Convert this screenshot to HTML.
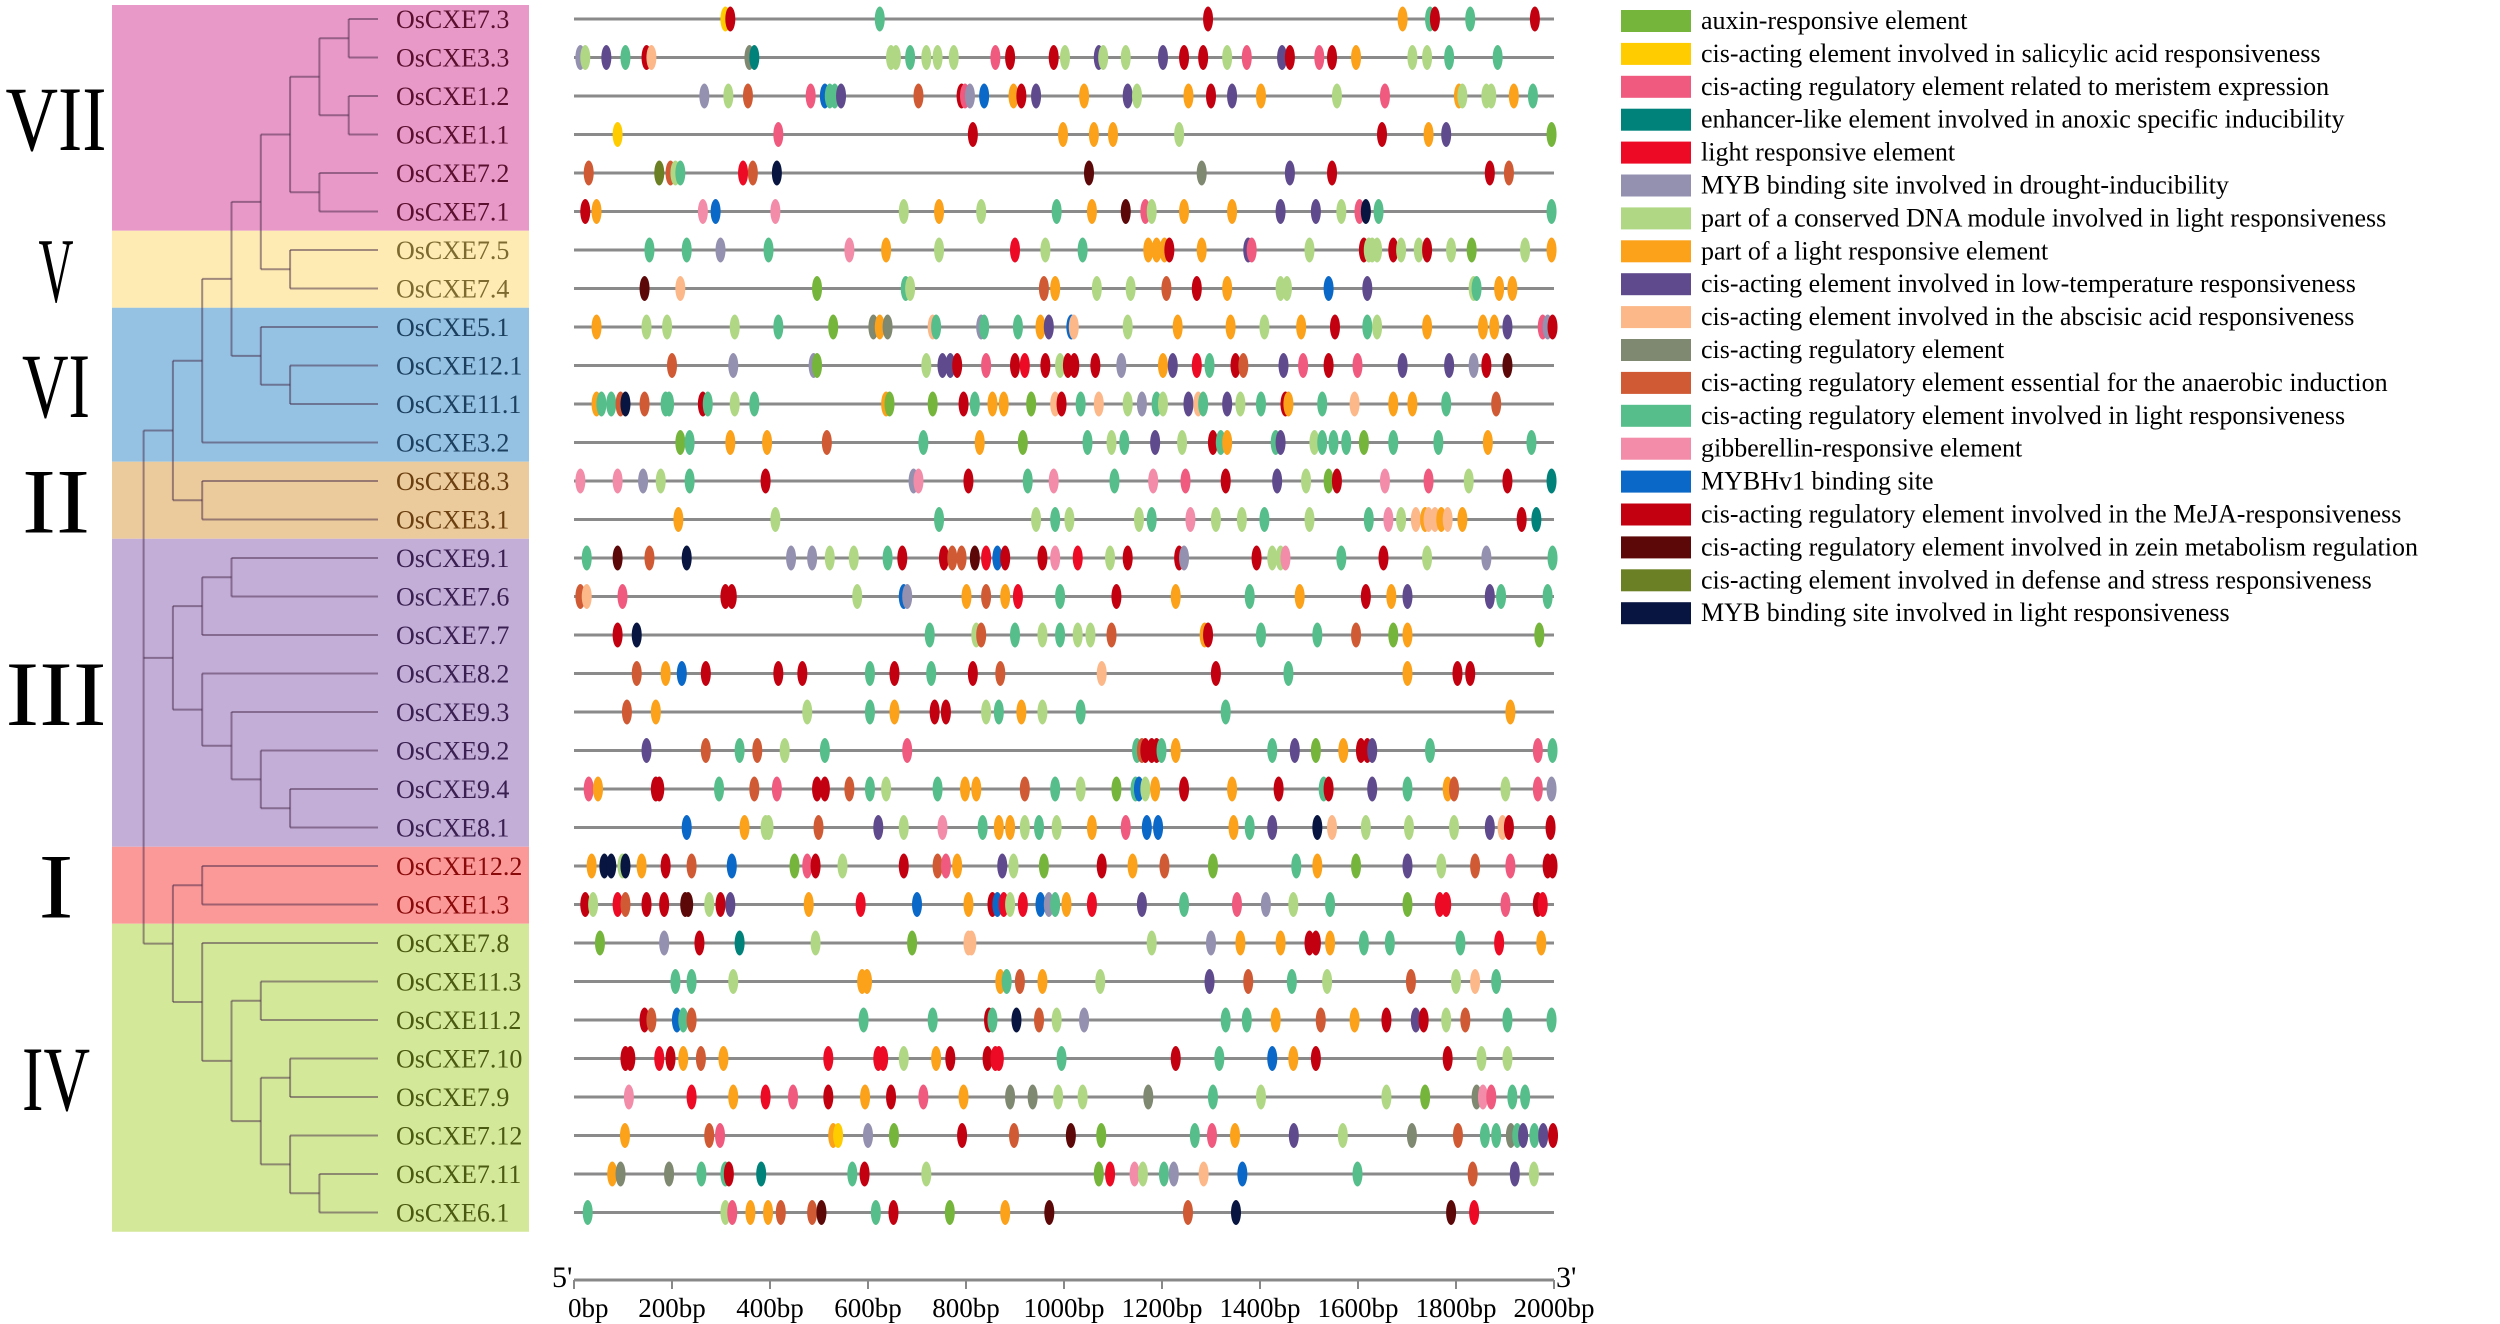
<!DOCTYPE html>
<html><head><meta charset="utf-8"><title>OsCXE promoter cis-elements</title>
<style>
html,body{margin:0;padding:0;background:#fff;}
svg{display:block;font-family:"Liberation Serif",serif;}
</style></head>
<body>
<svg id="chart" width="2500" height="1324" viewBox="0 0 2500 1324" xmlns="http://www.w3.org/2000/svg"></svg>
<script>
const genes = ["OsCXE7.3","OsCXE3.3","OsCXE1.2","OsCXE1.1","OsCXE7.2","OsCXE7.1","OsCXE7.5","OsCXE7.4","OsCXE5.1","OsCXE12.1","OsCXE11.1","OsCXE3.2","OsCXE8.3","OsCXE3.1","OsCXE9.1","OsCXE7.6","OsCXE7.7","OsCXE8.2","OsCXE9.3","OsCXE9.2","OsCXE9.4","OsCXE8.1","OsCXE12.2","OsCXE1.3","OsCXE7.8","OsCXE11.3","OsCXE11.2","OsCXE7.10","OsCXE7.9","OsCXE7.12","OsCXE7.11","OsCXE6.1"];
const elementCodes = ["a","s","m","e","l","d","c","p","t","b","r","n","g","G","h","j","z","f","k"];
const elementNames = ["auxin-responsive element","cis-acting element involved in salicylic acid responsiveness","cis-acting regulatory element related to meristem expression","enhancer-like element involved in anoxic specific inducibility","light responsive element","MYB binding site involved in drought-inducibility","part of a conserved DNA module involved in light responsiveness","part of a light responsive element","cis-acting element involved in low-temperature responsiveness","cis-acting element involved in the abscisic acid responsiveness","cis-acting regulatory element","cis-acting regulatory element essential for the anaerobic induction","cis-acting regulatory element involved in light responsiveness","gibberellin-responsive element","MYBHv1 binding site","cis-acting regulatory element involved in the MeJA-responsiveness","cis-acting regulatory element involved in zein metabolism regulation","cis-acting element involved in defense and stress responsiveness","MYB binding site involved in light responsiveness"];
const elementColors = ["#76b53b","#ffcc00","#ef5a7e","#00827a","#ec0a24","#9390b0","#b0d884","#fba11a","#5e4a8c","#fcb889","#7f8870","#d05a34","#56be8a","#f28ca8","#0a68c8","#c30010","#5c0808","#6b7f24","#081540"];
const axisTicks = [0,200,400,600,800,1000,1200,1400,1600,1800,2000];
const tickLabels = ["0bp","200bp","400bp","600bp","800bp","1000bp","1200bp","1400bp","1600bp","1800bp","2000bp"];
const positions = [
[309,319,624,1294,1691,1747,1757,1829,1961],
[13,23,66,105,148,158,358,368,647,657,686,719,742,775,860,890,979,1002,1071,1080,1126,1202,1245,1284,1333,1373,1445,1461,1521,1547,1596,1711,1741,1786,1885],
[266,315,355,483,512,522,532,545,703,791,798,808,837,897,913,943,1041,1130,1149,1254,1300,1343,1402,1557,1655,1806,1813,1862,1872,1918,1957],
[89,417,814,998,1061,1100,1235,1649,1744,1780,1995],
[30,174,197,207,217,345,365,414,1051,1281,1461,1547,1869,1908],
[23,46,263,289,411,673,745,831,985,1057,1126,1166,1179,1245,1343,1442,1514,1566,1603,1616,1642,1995],
[154,230,299,397,562,637,745,900,962,1038,1172,1189,1205,1215,1281,1376,1383,1501,1612,1622,1629,1639,1672,1688,1724,1741,1790,1832,1941,1995],
[144,217,496,677,686,959,982,1067,1136,1209,1271,1333,1442,1455,1540,1619,1836,1842,1888,1915],
[46,148,190,328,417,529,611,624,640,732,739,831,837,906,952,969,1015,1020,1130,1232,1340,1409,1484,1553,1619,1639,1741,1855,1878,1905,1977,1987,1997],
[200,325,489,496,719,752,768,782,841,900,920,962,992,1008,1021,1064,1117,1202,1222,1271,1297,1350,1366,1448,1488,1540,1599,1691,1786,1836,1862,1905],
[46,56,76,95,105,144,187,194,263,273,328,368,637,644,732,795,818,854,877,933,982,995,1034,1071,1130,1159,1189,1202,1254,1274,1284,1333,1360,1402,1452,1458,1527,1593,1672,1711,1780,1882],
[217,236,319,394,516,713,828,916,1048,1097,1123,1186,1241,1304,1320,1333,1432,1442,1511,1527,1550,1576,1612,1672,1764,1865,1954],
[13,89,141,177,236,391,693,703,805,926,979,1103,1182,1248,1330,1435,1494,1540,1557,1655,1744,1826,1905,1995],
[213,411,745,943,982,1011,1153,1179,1258,1310,1363,1409,1501,1622,1662,1688,1718,1737,1744,1757,1770,1783,1813,1934,1964],
[26,89,154,230,443,486,522,571,640,670,755,772,791,818,841,864,880,956,982,1028,1094,1130,1235,1245,1393,1425,1442,1452,1566,1652,1741,1862,1997],
[13,26,99,309,322,578,673,680,801,841,880,906,992,1107,1228,1379,1481,1616,1668,1701,1869,1892,1987],
[89,128,726,821,831,900,956,992,1028,1054,1097,1287,1294,1402,1517,1596,1672,1701,1970],
[128,187,220,269,417,466,604,654,729,814,870,1077,1310,1458,1701,1803,1829],
[108,167,476,604,654,736,759,841,867,913,956,1034,1330,1911],
[148,269,338,374,430,512,680,1149,1159,1166,1179,1189,1199,1228,1425,1471,1514,1570,1606,1619,1629,1747,1967,1997],
[30,49,167,174,296,368,414,496,512,562,604,637,742,798,821,920,982,1034,1107,1146,1153,1166,1186,1245,1343,1438,1530,1540,1629,1701,1783,1796,1901,1967,1995],
[230,348,391,397,499,621,673,752,834,867,890,920,949,985,1057,1126,1169,1192,1346,1379,1425,1517,1547,1616,1704,1796,1869,1895,1908,1993],
[36,62,76,99,105,138,187,240,322,450,476,493,548,673,742,759,782,874,897,959,1077,1140,1205,1304,1474,1517,1596,1701,1770,1839,1911,1987,1997],
[23,39,89,105,148,184,227,233,276,299,319,479,585,700,805,854,864,877,890,916,952,969,982,1005,1057,1159,1245,1353,1412,1468,1543,1701,1767,1780,1901,1967,1977],
[53,184,256,338,493,690,805,811,1179,1300,1360,1442,1501,1514,1543,1612,1665,1809,1888,1974],
[207,240,325,588,598,870,883,910,956,1074,1297,1376,1465,1537,1708,1800,1839,1882],
[144,158,210,223,240,591,732,847,854,903,949,985,1041,1330,1373,1432,1524,1593,1658,1718,1734,1780,1819,1905,1995],
[105,115,174,197,223,259,305,519,621,631,673,739,768,844,860,867,995,1228,1317,1425,1468,1514,1783,1852,1905],
[112,240,325,391,447,519,594,647,713,795,890,936,988,1038,1172,1304,1402,1658,1737,1842,1855,1872,1915,1941],
[104,276,298,529,539,600,653,792,898,1014,1076,1267,1302,1349,1469,1569,1710,1804,1859,1882,1912,1925,1937,1960,1978,1998],
[78,95,194,260,309,316,382,568,593,719,1071,1094,1144,1161,1204,1224,1285,1364,1599,1834,1920,1959],
[28,309,323,360,396,422,486,505,616,652,767,880,970,1253,1351,1790,1837]
];
const types = [
"sjgjpgjgj",
"dctgjbreccgcccmjjctcctjjcmtjmjpccg",
"dcnmhggtnjmdhpjtptcpjtpcmpcccp",
"smjpppcjpta",
"nfncglnkzrtjjn",
"jpGhGcpcgpzmcppttcmkgg",
"ggdgGpclcgpppjptmcjcccjccjcacpb",
"zbagcnpccnjpcchtcgpp",
"pccciarprbgdggpthbcppcpjgcppptmdj",
"nddacttjmjljcjjjdptlgjntmjmttdjz",
"pggnknggjgcgpaajgppabjgbcdgctbgtcgjpgbppgnpg",
"agppngpagcgtcjgpgtcgggaggpgg",
"GGdcgjdGjgGgGmjtcajGmcje",
"pcgcgccgGccgcgGcbpbbpbpje",
"gznkddccgjjnnzlhjjGlcjjdjccGgjcd",
"nbmjjchdpnplgjpgpjpttgg",
"jkgcngcgccnpjggnapa",
"nphjjjgjgjnbjgpjj",
"npcgpjjcgpcggp",
"tngncgmgnjjjgpgtapjjtgmg",
"mpjjgnmjjngcgppngcaghcpjpjgjtgpncmd",
"hpccntcGgppcgcpmhhpgtkbccctbjjj",
"pkkckpjnhamjcjnmptcajpnagpatcnmjj",
"jclnjjzzcjtplhpjhlclhdgpltgmdcgallmjll",
"adjecabbcdppjjpggglp",
"ggcpppgnpctngcncb",
"jnhgnggjgkncdggpnpjtjcngg",
"jjljpnplllcpjjllgjghpjjcc",
"GlplmjpjmprrccrgccarGmg",
"pnmpsdajnzagmptcrnggrgtgtj",
"prrggjegjcalGcgdbhgntc",
"gcmppnnzgjapznkzl"
];

const NS="http://www.w3.org/2000/svg";
const svg=document.getElementById('chart');
function mk(tag,attrs,parent){const e=document.createElementNS(NS,tag);for(const k in attrs)e.setAttribute(k,attrs[k]);(parent||svg).appendChild(e);return e;}

const rowY=i=>19+38.5*i;
const xScale=bp=>574+bp*0.49;

const groups=[["VII",0,5,"#e899c8","#5a0f2e"],["V",6,7,"#fdebb3","#7d6a30"],["VI",8,11,"#95c2e3","#1c3f5e"],["II",12,13,"#ebcb9c","#6b3f10"],["III",14,21,"#c3aed8","#3a2050"],["I",22,23,"#fb9999","#8a0a0a"],["IV",24,31,"#d4e89a","#4a5a10"]];
const labelColor=[];
groups.forEach(g=>{
  const top=Math.max(5,rowY(g[1])-19.25), bot=rowY(g[2])+19.25;
  const r=mk('rect',{x:112,y:top,width:417,height:bot-top,fill:g[3]});
  
  
  const t=mk('text',{x:56,y:(top+bot)/2+32,'font-size':92,'text-anchor':'middle',fill:'#000',textLength:g[0].length*33+2,lengthAdjust:'spacingAndGlyphs'});
  t.textContent=g[0];
  
  
  for(let i=g[1];i<=g[2];i++)labelColor[i]=g[4];
});

const L=k=>378-29.3*k;
const A={k:1,c:[0,1]},B={k:1,c:[2,3]},AB={k:2,c:[A,B]},C={k:2,c:[4,5]},VIIc={k:3,c:[AB,C]},Vc={k:3,c:[6,7]},VV={k:4,c:[VIIc,Vc]},D={k:3,c:[9,10]},VIc={k:4,c:[8,D]},E={k:5,c:[VV,VIc]},F={k:6,c:[E,11]},IIc={k:6,c:[12,13]},G={k:7,c:[F,IIc]};
const H={k:5,c:[14,15]},H2={k:6,c:[H,16]},p1={k:3,c:[20,21]},p2={k:4,c:[19,p1]},p3={k:5,c:[18,p2]},p4={k:6,c:[17,p3]},IIIc={k:7,c:[H2,p4]};
const Ic={k:6,c:[22,23]};
const q1={k:4,c:[25,26]},q2={k:3,c:[27,28]},q3={k:2,c:[30,31]},q4={k:3,c:[29,q3]},q5={k:4,c:[q2,q4]},q6={k:5,c:[q1,q5]},q7={k:6,c:[24,q6]},IIV={k:7,c:[Ic,q7]};
const root={k:8,c:[G,IIIc,IIV]};
const treeG=mk('g',{stroke:'rgba(70,40,70,0.5)','stroke-width':2,fill:'none'});


function draw(n){
  if(typeof n==='number')return {x:378,y:rowY(n)};
  const x=L(n.k);const ch=n.c.map(draw);
  ch.forEach(c=>mk('line',{x1:x,y1:c.y,x2:c.x,y2:c.y},treeG));
  const y0=ch[0].y,y1=ch[ch.length-1].y;
  mk('line',{x1:x,y1:y0,x2:x,y2:y1},treeG);
  return {x:x,y:(y0+y1)/2};
}
draw(root);

genes.forEach((name,i)=>{
  const y=rowY(i);
  const lab=mk('text',{x:396,y:y+9,'font-size':26,fill:labelColor[i]});
  lab.textContent=name;
  
  
  const ln=mk('line',{x1:xScale(0),y1:y,x2:xScale(2000),y2:y,stroke:'#8a8a8a','stroke-width':3});
  
  
  const pos=positions[i],ty=types[i];
  pos.forEach((bp,j)=>{
    const ci=elementCodes.indexOf(ty[j]);
    const el=mk('ellipse',{cx:xScale(bp),cy:y,rx:5,ry:12.5,fill:elementColors[ci<0?12:ci]});
    
    
  });
});

const ax=mk('g',{});


mk('line',{x1:xScale(0),y1:1280,x2:xScale(2000),y2:1280,stroke:'#888','stroke-width':3},ax);
axisTicks.forEach((v,i)=>{
  mk('line',{x1:xScale(v),y1:1280,x2:xScale(v),y2:1289,stroke:'#888','stroke-width':2},ax);
  const t=mk('text',{x:xScale(v)+(i===0?-6:0),y:1317,'font-size':27,'text-anchor':i===0?'start':'middle',fill:'#000'},ax);
  t.textContent=tickLabels[i];
  
  
});
const t5=mk('text',{x:552,y:1287,'font-size':30,fill:'#000'},ax);t5.textContent="5'";


const t3=mk('text',{x:1556,y:1287,'font-size':30,fill:'#000'},ax);t3.textContent="3'";



const lg=mk('g',{});


elementNames.forEach((n,i)=>{
  const y=21+32.9*i;
  const e=mk('g',{},lg);
  
  
  mk('rect',{x:1621,y:y-11,width:70,height:22,fill:elementColors[i]},e);
  const t=mk('text',{x:1701,y:y+8,'font-size':26,fill:'#000'},e);
  t.textContent=n;
});
</script>
</body></html>
